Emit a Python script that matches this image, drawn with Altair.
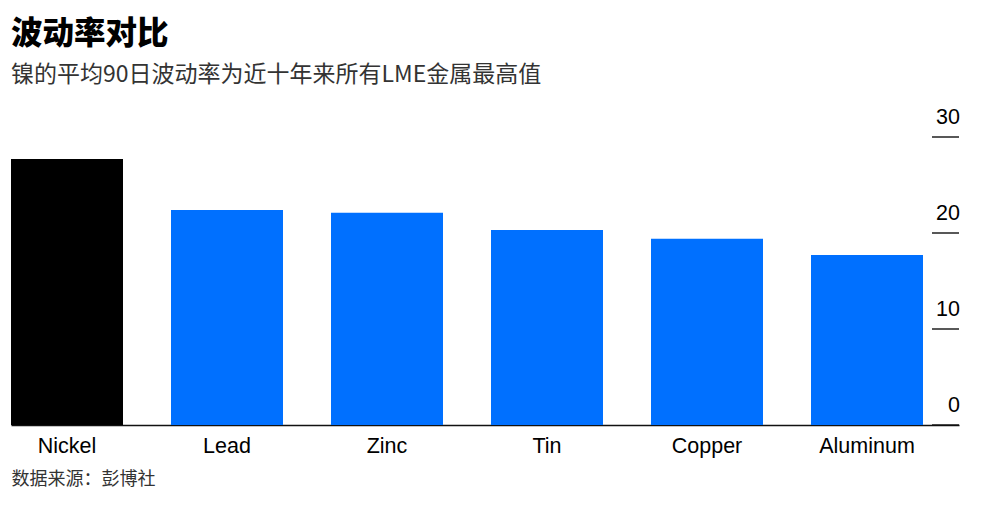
import altair as alt
import pandas as pd

metals = ["Nickel", "Lead", "Zinc", "Tin", "Copper", "Aluminum"]
volatility = [27.7, 22.4, 22.1, 20.3, 19.4, 17.7]
bar_colors = ["#000000", "#0070ff", "#0070ff", "#0070ff", "#0070ff", "#0070ff"]
tick_values = [0, 10, 20, 30]
tick_labels = ["0", "10", "20", "30"]

df = pd.DataFrame({"metal": metals, "value": volatility, "color": bar_colors})
ticks = pd.DataFrame({"v": tick_values, "label": tick_labels})

W, H = 948, 288
yscale = alt.Scale(domain=[0, 30], nice=False, zero=True)

bars = alt.Chart(df).mark_bar().encode(
    x=alt.X("metal:N", sort=None,
            scale=alt.Scale(paddingInner=0.3, paddingOuter=0.1125, align=0),
            axis=alt.Axis(labelAngle=0, labelFontSize=21.5, labelColor="#000",
                          labelFont="Liberation Sans", labelPadding=10,
                          ticks=False, domain=True, domainColor="#111", domainWidth=1.6,
                          title="数据来源：彭博社", titleFont="Noto Sans CJK SC",
                          titleFontSize=18, titleFontWeight="normal", titleColor="#333",
                          titleAnchor="start", titleAlign="left", titleX=0, titlePadding=14)),
    y=alt.Y("value:Q", scale=yscale, axis=None),
    color=alt.Color("color:N", scale=None),
)

rules = alt.Chart(ticks).mark_rule(color="#111", strokeWidth=1.4).encode(
    y=alt.Y("v:Q", scale=yscale),
    x=alt.value(W - 27),
    x2=alt.value(W),
)

labels = alt.Chart(ticks).mark_text(
    align="right", baseline="alphabetic", dy=-13, fontSize=21.5,
    font="Liberation Sans", color="#000"
).encode(
    y=alt.Y("v:Q", scale=yscale),
    x=alt.value(W + 1),
    text="label:N",
)

chart = alt.layer(bars, rules, labels).properties(
    width=W, height=H,
    padding={"left": 3, "top": 10, "right": 5, "bottom": 5},
    title=alt.TitleParams(
        "波动率对比",
        subtitle="镍的平均90日波动率为近十年来所有LME金属最高值",
        anchor="start", font="Noto Sans CJK SC", fontSize=31.5, fontWeight=900,
        color="#000", subtitleFont="Noto Sans CJK SC", subtitleFontSize=23,
        subtitleColor="#333", subtitlePadding=14, offset=20,
    ),
).configure_view(stroke=None).configure_axis(grid=False)

chart.save("out.html", embed_options={"renderer": "svg", "actions": False})
